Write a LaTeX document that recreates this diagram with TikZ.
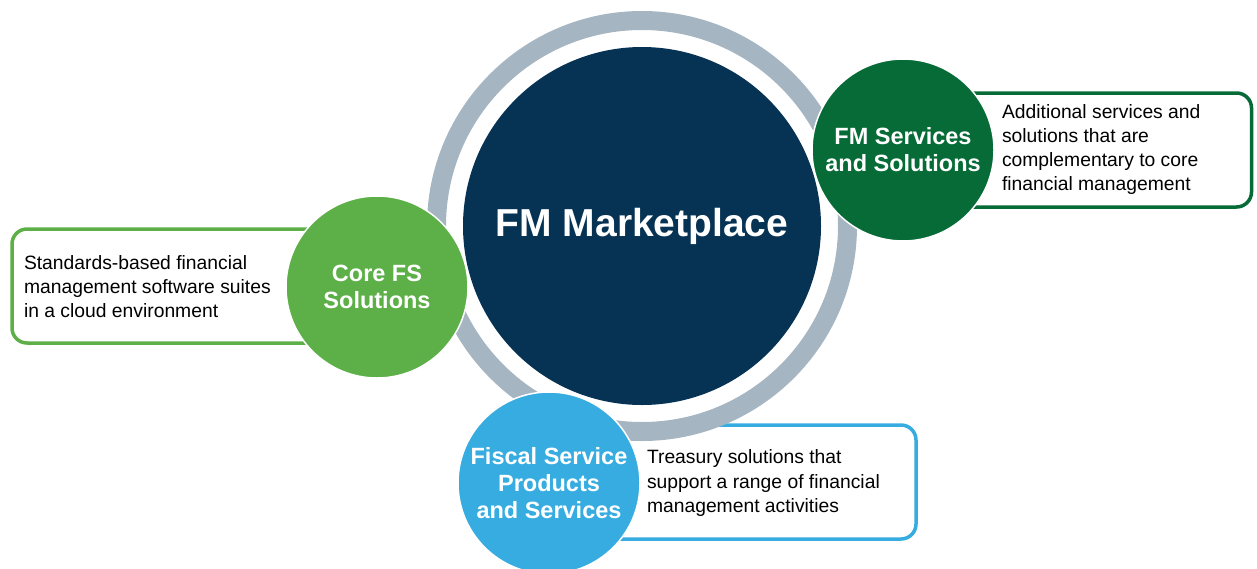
\documentclass[tikz,border=0pt]{standalone}
\usepackage{fontspec}
\setmainfont{Liberation Sans}
\usepackage{tikz}

\definecolor{navy}{RGB}{6,50,83}
\definecolor{ringgray}{RGB}{166,181,194}
\definecolor{coregreen}{RGB}{93,175,71}
\definecolor{darkgreen}{RGB}{6,107,55}
\definecolor{skyblue}{RGB}{55,172,224}

\begin{document}
\begin{tikzpicture}[x=1pt,y=-1pt,
  every node/.style={inner sep=0pt, outer sep=0pt},
  hub/.style={circle, fill=navy, minimum size=358pt, text=white, font=\bfseries\fontsize{39}{44}\selectfont},
  topic/.style={circle, draw=white, line width=1.5pt, minimum size=182pt, text=white, align=center, font=\bfseries\fontsize{23.5}{27}\selectfont},
  descbox/.style={rectangle, rounded corners=15pt, line width=3.5pt, fill=white, minimum height=114pt},
  desc/.style={anchor=west, align=left, font=\fontsize{19.3}{24}\selectfont}]
\useasboundingbox (0,0) rectangle (1257,568);

% boxes behind the circles
\node[descbox, draw=coregreen, minimum width=348pt] (corebox) at (186,286) {};
\node[descbox, draw=darkgreen, minimum width=311pt] (servbox) at (1096,150) {};
\node[descbox, draw=skyblue, minimum width=356pt] (fiscbox) at (738,482) {};

% centre
\node[circle, draw=ringgray, line width=19pt, minimum size=411pt] (ring) at (642,226) {};
\node[hub] (hub) at (642,226) {FM Marketplace};

% the three circles
\node[topic, fill=coregreen] (core) at (377,287) {Core FS\\Solutions};
\node[topic, fill=darkgreen] (serv) at (903,150) {FM Services\\and Solutions};
\node[topic, fill=skyblue] (fisc) at (549,483) {Fiscal Service\\Products\\and Services};

\node[desc] (coretext) at (24,287) {Standards-based financial\\management software suites\\in a cloud environment};
\node[desc] (servtext) at (1002,150) {Additional services and\\solutions that are\\complementary to core\\financial management};
\node[desc] (fisctext) at (647,483) {Treasury solutions that\\support a range of financial\\management activities};
\end{tikzpicture}
\end{document}
